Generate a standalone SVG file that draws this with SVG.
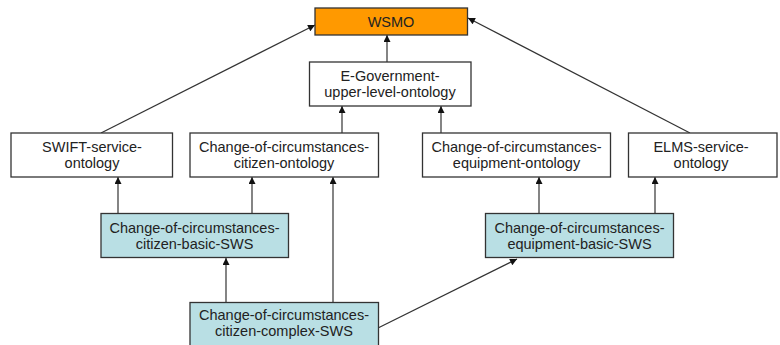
<svg xmlns="http://www.w3.org/2000/svg" width="780" height="345" viewBox="0 0 780 345">
<defs>
<marker id="arr" viewBox="0 0 10 10" refX="10" refY="5" markerWidth="8" markerHeight="7" markerUnits="userSpaceOnUse" orient="auto">
<path d="M0,0 L10,5 L0,10 z" fill="#111"/>
</marker>
<style>
.box{stroke:#333;stroke-width:1.3}
.w{fill:#ffffff}
.o{fill:#ff9900}
.b{fill:#b9dfe4}
text{font-family:"Liberation Sans",Arial,sans-serif;font-size:14.5px;fill:#222;text-anchor:middle}
.c line{stroke:#333;stroke-width:1.2;marker-end:url(#arr)}
</style>
</defs>
<rect width="780" height="345" fill="#ffffff"/>
<g class="c" id="connectors">
<line x1="101" y1="133" x2="315" y2="25"/>
<line x1="690" y1="133" x2="468" y2="18"/>
<line x1="387" y1="62" x2="387" y2="35"/>
<line x1="342" y1="133" x2="342" y2="106"/>
<line x1="441" y1="133" x2="441" y2="106"/>
<line x1="118" y1="213" x2="118" y2="177"/>
<line x1="252" y1="213" x2="252" y2="177"/>
<line x1="226" y1="302" x2="226" y2="258"/>
<line x1="333" y1="302" x2="333" y2="177"/>
<line x1="378" y1="328" x2="517" y2="259"/>
<line x1="539" y1="213" x2="539" y2="177"/>
<line x1="655" y1="213" x2="655" y2="177"/>
</g>
<g id="wsmo">
<rect class="box o" x="315" y="8" width="152.5" height="27"/>
<text x="391" y="26.5">WSMO</text>
</g>
<g id="egov">
<rect class="box w" x="309.5" y="62" width="161.5" height="44"/>
<text x="390" y="81">E-Government-</text>
<text x="390" y="97">upper-level-ontology</text>
</g>
<g id="swift">
<rect class="box w" x="11" y="133" width="161.5" height="44"/>
<text x="92" y="152">SWIFT-service-</text>
<text x="92" y="168">ontology</text>
</g>
<g id="citizen-ontology">
<rect class="box w" x="190" y="133" width="188.5" height="44"/>
<text x="284" y="152">Change-of-circumstances-</text>
<text x="284" y="168">citizen-ontology</text>
</g>
<g id="equipment-ontology">
<rect class="box w" x="422.5" y="133" width="188" height="44"/>
<text x="516.5" y="152">Change-of-circumstances-</text>
<text x="516.5" y="168">equipment-ontology</text>
</g>
<g id="elms">
<rect class="box w" x="628.5" y="133" width="148.5" height="44"/>
<text x="701" y="152">ELMS-service-</text>
<text x="701" y="168">ontology</text>
</g>
<g id="citizen-basic">
<rect class="box b" x="101" y="213.5" width="187.5" height="44"/>
<text x="194.5" y="233">Change-of-circumstances-</text>
<text x="194.5" y="249">citizen-basic-SWS</text>
</g>
<g id="equipment-basic">
<rect class="box b" x="485.5" y="213.5" width="188" height="44"/>
<text x="579.5" y="232.5">Change-of-circumstances-</text>
<text x="579.5" y="248.5">equipment-basic-SWS</text>
</g>
<g id="citizen-complex">
<rect class="box b" x="190" y="302.5" width="188.5" height="44"/>
<text x="284" y="319.5">Change-of-circumstances-</text>
<text x="284" y="335.5">citizen-complex-SWS</text>
</g>
</svg>
